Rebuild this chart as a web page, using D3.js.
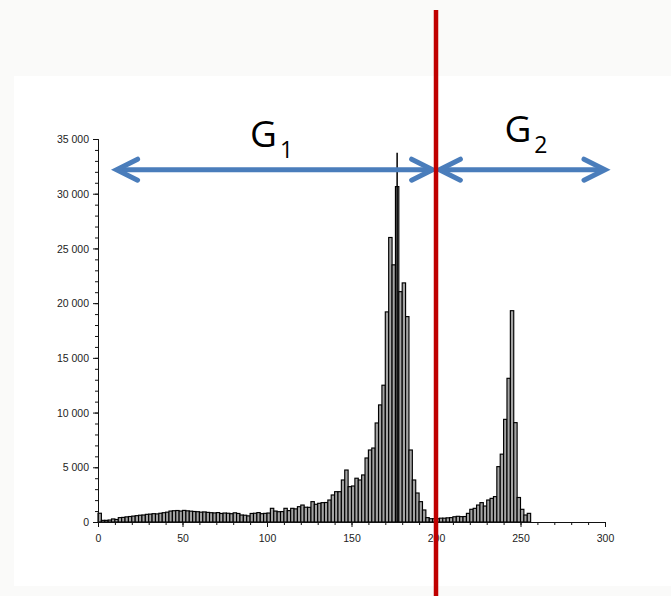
<!DOCTYPE html>
<html>
<head>
<meta charset="utf-8">
<script src="https://cdn.jsdelivr.net/npm/d3@7"></script>
<style>
  html, body { margin: 0; padding: 0; background: #fafaf9; }
  svg { display: block; }
</style>
</head>
<body>
<svg id="chart" width="671" height="596"></svg>
<script>
// ---- data: histogram bins (start of 2-unit bin) and counts ----
const binStarts = [
  0,2,4,6,8,10,12,14,16,18,20,22,24,26,28,30,32,34,36,38,
  40,42,44,46,48,50,52,54,56,58,60,62,64,66,68,70,72,74,76,78,
  80,82,84,86,88,90,92,94,96,98,100,102,104,106,108,110,112,114,116,118,
  120,122,124,126,128,130,132,134,136,138,140,142,144,146,148,150,152,154,156,158,
  160,162,164,166,168,170,172,174,176,178,180,182,184,186,188,190,192,194,196,198,
  200,202,204,206,208,210,212,214,216,218,220,222,224,226,228,230,232,234,236,238,
  240,242,244,246,248,250,252,254
];
const counts = [
  800,150,150,180,280,230,400,420,470,500,540,580,620,640,700,720,760,740,800,850,
  900,1000,1030,1050,1000,1060,1020,990,960,940,900,920,880,850,830,860,780,820,800,760,
  840,780,640,620,560,780,800,860,760,790,820,1250,1000,940,950,1250,1040,1250,1200,1400,
  1550,1350,1340,1860,1620,1710,1770,1780,2010,2470,2770,2770,3840,4750,3230,3290,4000,3840,4300,5850,
  6580,6760,9050,10700,12500,19200,26000,23500,30650,21050,21850,18770,6580,3840,2650,1860,1100,400,300,300,
  300,350,350,380,400,480,520,490,500,790,1160,1250,1550,1770,1460,2010,2160,2320,5060,6200,
  9380,13130,19310,9080,2240,1160,640,790
];
const binWidth = 2;
// single narrow spike drawn on top of the main peak
const spikeX = [177];
const spikeV = [33750];

// axis ticks
const yMajor = [0,5000,10000,15000,20000,25000,30000,35000];
const xMajor = [0,50,100,150,200,250,300];

// annotations (in data units)
const threshold = 200;
const groupLabels = ["1", "2"];
const groupArrowFrom = [11, 202];
const groupArrowTo = [198, 300];
const groupLabelAt = [90, 240.5];
const arrowLevel = 32200;

// ---- drawing ----
const svg = d3.select("#chart");
const x = d3.scaleLinear().domain([0, 300]).range([98, 605]);
const y = d3.scaleLinear().domain([0, 35000]).range([522, 139]);

// white panel
svg.append("rect").attr("x", 14).attr("y", 76).attr("width", 657).attr("height", 510).attr("fill", "#ffffff");

const bins = binStarts.map((s, i) => ({ s, v: counts[i] }));

svg.append("g").selectAll("rect").data(bins).join("rect")
  .attr("x", d => x(d.s))
  .attr("y", d => y(d.v))
  .attr("width", d => x(d.s + binWidth) - x(d.s))
  .attr("height", d => y(0) - y(d.v))
  .attr("fill", "#a4a4a4")
  .attr("stroke", "#000")
  .attr("stroke-width", 1.15);

svg.append("g").selectAll("line").data(spikeX.map((s, i) => ({ s, v: spikeV[i] }))).join("line")
  .attr("x1", d => x(d.s)).attr("x2", d => x(d.s))
  .attr("y1", y(0)).attr("y2", d => y(d.v))
  .attr("stroke", "#000").attr("stroke-width", 1.5);

// axes
const fmt = v => d3.format(",")(v).replace(/,/g, " ");
const yAxis = d3.axisLeft(y).tickValues(d3.range(0, 35001, 1000)).tickSize(3).tickFormat("");
const yg = svg.append("g").attr("transform", `translate(${x(0)},0)`).call(yAxis);
yg.append("g").call(d3.axisLeft(y).tickValues(yMajor).tickSize(5).tickFormat(fmt).tickPadding(4));
const xAxis = d3.axisBottom(x).tickValues(d3.range(0, 301, 10)).tickSize(3).tickFormat("");
const xg = svg.append("g").attr("transform", `translate(0,${y(0)})`).call(xAxis);
xg.append("g").call(d3.axisBottom(x).tickValues(xMajor).tickSize(5).tickPadding(8));
svg.selectAll(".domain").attr("stroke", "#111");
svg.selectAll(".tick line").attr("stroke", "#111");
svg.selectAll(".tick text").attr("font-family", "Liberation Sans, Arial, sans-serif")
  .attr("font-size", 10.5).attr("fill", "#222");
yg.selectAll(".tick text").attr("dy", "0.35em");

// arrows
const blue = "#4a7dbb";
const ay = y(arrowLevel);
function chevron(tipX, dir) {
  return `M${tipX + dir * 21},${ay - 10.5} L${tipX},${ay} L${tipX + dir * 21},${ay + 10.5}`;
}
groupArrowFrom.forEach((f, i) => {
  const x1 = x(f), x2 = x(groupArrowTo[i]);
  svg.append("line").attr("x1", x1 + 2).attr("x2", x2 - 2).attr("y1", ay).attr("y2", ay)
    .attr("stroke", blue).attr("stroke-width", 5);
  svg.append("path").attr("d", chevron(x1, 1)).attr("fill", "none").attr("stroke", blue)
    .attr("stroke-width", 5).attr("stroke-linecap", "round").attr("stroke-linejoin", "miter");
  svg.append("path").attr("d", chevron(x2, -1)).attr("fill", "none").attr("stroke", blue)
    .attr("stroke-width", 5).attr("stroke-linecap", "round").attr("stroke-linejoin", "miter");
});

// group labels
groupLabels.forEach((g, i) => {
  const t = svg.append("text")
    .attr("x", x(groupLabelAt[i]))
    .attr("y", i === 0 ? 147 : 142)
    .attr("font-family", "Open Sans, Liberation Sans, sans-serif")
    .attr("font-size", 37).attr("fill", "#000");
  t.append("tspan").text("G");
  t.append("tspan").attr("font-size", 23).attr("dy", 11).attr("dx", 3).text(g);
});

// threshold line
svg.append("line").attr("x1", x(threshold)).attr("x2", x(threshold))
  .attr("y1", 10).attr("y2", 596)
  .attr("stroke", "#c00000").attr("stroke-width", 4.5);
</script>
</body>
</html>
